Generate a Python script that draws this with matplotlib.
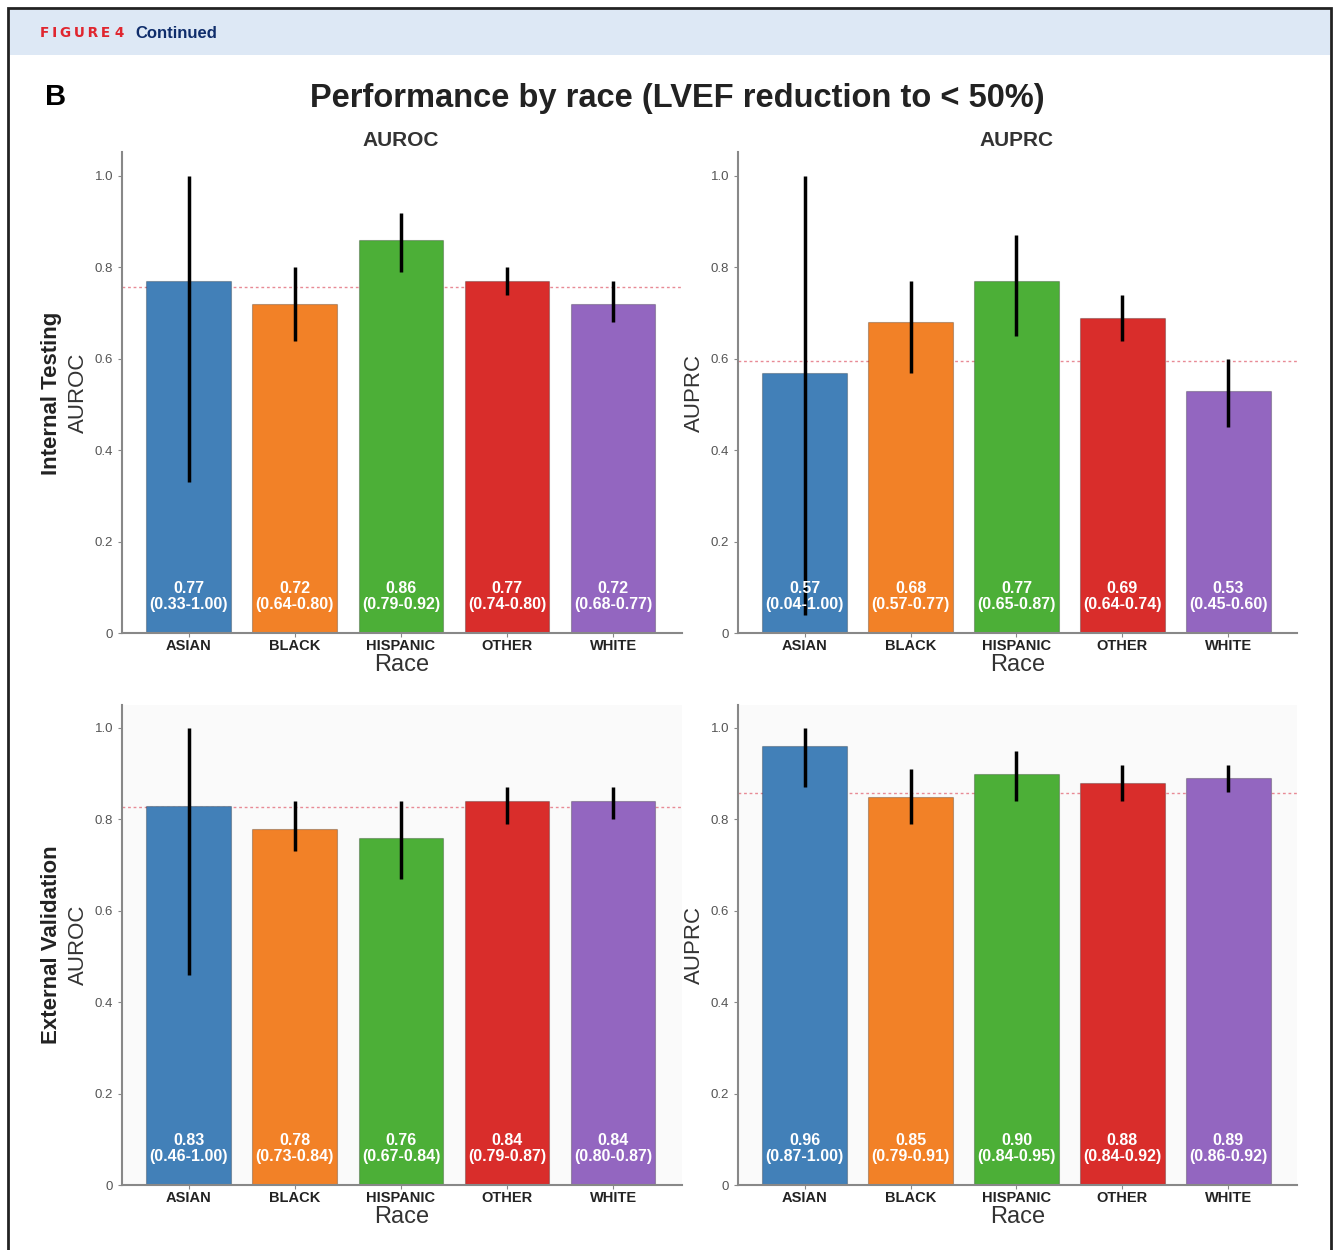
import numpy as np
import matplotlib
matplotlib.use('Agg')
import matplotlib.pyplot as plt
from matplotlib.patches import Rectangle

plt.rcParams['font.family'] = ['Liberation Sans', 'DejaVu Sans']

races = ['ASIAN', 'BLACK', 'HISPANIC', 'OTHER', 'WHITE']
colors = ['#4280b8', '#f28127', '#4caf37', '#d92d2b', '#9366c0']

# internal testing
int_auroc = [0.77, 0.72, 0.86, 0.77, 0.72]
int_auroc_lo = [0.33, 0.64, 0.79, 0.74, 0.68]
int_auroc_hi = [1.00, 0.80, 0.92, 0.80, 0.77]
int_auprc = [0.57, 0.68, 0.77, 0.69, 0.53]
int_auprc_lo = [0.04, 0.57, 0.65, 0.64, 0.45]
int_auprc_hi = [1.00, 0.77, 0.87, 0.74, 0.60]

# external validation
ext_auroc = [0.83, 0.78, 0.76, 0.84, 0.84]
ext_auroc_lo = [0.46, 0.73, 0.67, 0.79, 0.80]
ext_auroc_hi = [1.00, 0.84, 0.84, 0.87, 0.87]
ext_auprc = [0.96, 0.85, 0.90, 0.88, 0.89]
ext_auprc_lo = [0.87, 0.79, 0.84, 0.84, 0.86]
ext_auprc_hi = [1.00, 0.91, 0.95, 0.92, 0.92]

# overall reference lines
ref_lines = [0.757, 0.595, 0.827, 0.858]

W, H = 1336, 1250
fig = plt.figure(figsize=(W / 100, H / 100), dpi=100)

def fx(px):
    return px / W

def fy(py):
    return 1 - py / H

# frame and header band
fig.patches.append(Rectangle((fx(8), fy(1252)), fx(1323), fy(8) - fy(1252),
                             transform=fig.transFigure, fill=False, ec='#222222', lw=2))
fig.patches.append(Rectangle((fx(10), fy(55)), fx(1320), fy(10) - fy(55),
                             transform=fig.transFigure, fc='#dde8f5', ec='none'))
fig.text(fx(40), fy(33), '\u2009'.join('FIGURE') + ' 4', color='#e0262f', fontsize=9.8,
         fontweight='bold', family='DejaVu Sans', va='center', ha='left')
fig.text(fx(135), fy(33), 'Continued', color='#0f2d6b', fontsize=12, fontweight='bold',
         va='center', ha='left')

fig.text(fx(45), fy(97), 'B', fontsize=21, fontweight='bold', va='center', ha='left')
fig.text(fx(677), fy(99), 'Performance by race (LVEF reduction to < 50%)', fontsize=23.5,
         fontweight='bold', color='#222222', va='center', ha='center')
fig.text(fx(401), fy(140), 'AUROC', fontsize=15, fontweight='bold', color='#333333',
         va='center', ha='center')
fig.text(fx(1017), fy(140), 'AUPRC', fontsize=15, fontweight='bold', color='#333333',
         va='center', ha='center')

panels = [
    (122, 682, 152, 633, int_auroc, int_auroc_lo, int_auroc_hi, ref_lines[0], 'white'),
    (738, 1297, 152, 633, int_auprc, int_auprc_lo, int_auprc_hi, ref_lines[1], 'white'),
    (122, 682, 705, 1185, ext_auroc, ext_auroc_lo, ext_auroc_hi, ref_lines[2], '#fafafa'),
    (738, 1297, 705, 1185, ext_auprc, ext_auprc_lo, ext_auprc_hi, ref_lines[3], '#fafafa'),
]

x = np.arange(len(races))
for (l, r, t, b, vals, lo, hi, ref, bg) in panels:
    ax = fig.add_axes([fx(l), fy(b), fx(r - l), fy(t) - fy(b)])
    ax.set_facecolor(bg)
    ax.set_xlim(-0.63, 4.65)
    ax.set_ylim(0, (b - t) / 457)
    ax.axhline(ref, color='#e88a95', lw=1, ls=(0, (2, 2)), zorder=1)
    ax.bar(x, vals, width=0.8, color=colors, edgecolor='#00000040', linewidth=0.8, zorder=2)
    for c in range(len(races)):
        ax.plot([x[c], x[c]], [lo[c], hi[c]], color='black', lw=2.5, zorder=3, solid_capstyle='butt')
        ax.text(x[c], 0.08, f'{vals[c]:.2f}\n({lo[c]:.2f}-{hi[c]:.2f})', color='white',
                fontsize=11.5, fontweight='bold', ha='center', va='center', linespacing=1.1, zorder=4)
    for s in ['top', 'right']:
        ax.spines[s].set_visible(False)
    for s in ['left', 'bottom']:
        ax.spines[s].set_color('#888888')
        ax.spines[s].set_linewidth(1.5)
    ax.set_yticks([0, 0.2, 0.4, 0.6, 0.8, 1.0])
    ax.set_yticklabels(['0', '0.2', '0.4', '0.6', '0.8', '1.0'])
    ax.tick_params(axis='y', labelsize=9.5, labelcolor='#555555', colors='#888888', length=3)
    ax.set_xticks(x)
    ax.set_xticklabels(races, fontweight='bold')
    ax.tick_params(axis='x', labelsize=10.5, labelcolor='#222222', colors='#888888', length=3, pad=1)
    ax.set_xlabel('Race', fontsize=17, color='#333333', labelpad=1)

# y axis labels
fig.text(fx(52), fy(393), 'Internal Testing', rotation=90, fontsize=16, fontweight='bold',
         color='#222222', va='center', ha='center')
fig.text(fx(78), fy(393), 'AUROC', rotation=90, fontsize=16, color='#333333', va='center', ha='center')
fig.text(fx(694), fy(393), 'AUPRC', rotation=90, fontsize=16, color='#333333', va='center', ha='center')
fig.text(fx(52), fy(945), 'External Validation', rotation=90, fontsize=16, fontweight='bold',
         color='#222222', va='center', ha='center')
fig.text(fx(78), fy(945), 'AUROC', rotation=90, fontsize=16, color='#333333', va='center', ha='center')
fig.text(fx(694), fy(945), 'AUPRC', rotation=90, fontsize=16, color='#333333', va='center', ha='center')

fig.savefig('out.png', dpi=100)
